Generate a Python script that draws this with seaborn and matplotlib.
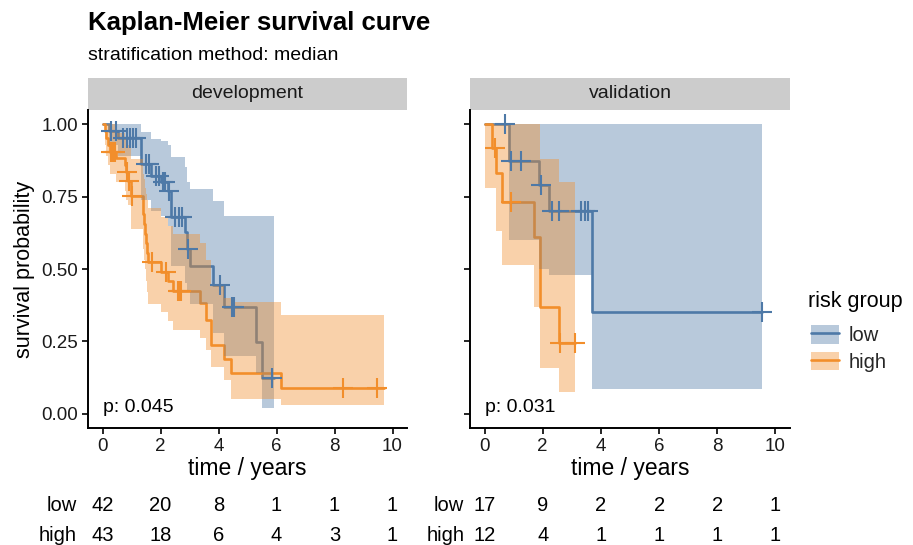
import numpy as np
import pandas as pd
import matplotlib
matplotlib.use("Agg")
import matplotlib.pyplot as plt
import seaborn as sns
from matplotlib.patches import Patch, Rectangle
from matplotlib.lines import Line2D
from matplotlib.legend_handler import HandlerTuple
from matplotlib.transforms import blended_transform_factory

# development cohort, low risk
dev_low_time = [0, 0.24, 0.55, 1.33, 1.68, 2.02, 2.25, 2.37, 2.83, 2.9, 3.0, 3.8, 4.2, 5.3, 5.5]
dev_low_surv = [1.0, 0.976, 0.952, 0.864, 0.822, 0.80, 0.77, 0.679, 0.627, 0.568, 0.509, 0.446, 0.37, 0.247, 0.122]
dev_low_upper = [1.0, 1.0, 1.0, 0.975, 0.95, 0.944, 0.93, 0.889, 0.854, 0.80, 0.777, 0.735, 0.683, 0.683, 0.683]
dev_low_lower = [1.0, 0.93, 0.89, 0.74, 0.70, 0.685, 0.65, 0.51, 0.45, 0.42, 0.38, 0.28, 0.20, 0.14, 0.02]
dev_low_end = 5.9
dev_low_censor = [0.3, 0.45, 0.7, 0.85, 0.95, 1.05, 1.15, 1.5, 1.6, 1.85, 1.95, 2.1, 2.15, 2.3,
                  2.5, 2.65, 2.75, 2.95, 4.05, 4.45, 4.55, 5.85]

# development cohort, high risk
dev_high_time = [0, 0.07, 0.12, 0.2, 0.25, 0.45, 0.76, 0.8, 0.88, 0.98, 1.38, 1.41, 1.44, 1.47, 1.5,
                 1.53, 1.56, 2.03, 2.25, 2.42, 3.35, 3.58, 3.75, 4.2, 4.44, 6.17]
dev_high_surv = [1.0, 0.977, 0.953, 0.93, 0.906, 0.884, 0.86, 0.835, 0.805, 0.753, 0.72, 0.69, 0.655, 0.62, 0.59,
                 0.557, 0.523, 0.49, 0.457, 0.425, 0.383, 0.324, 0.237, 0.19, 0.14, 0.09]
dev_high_upper = [1.0, 1.0, 1.0, 1.0, 1.0, 0.97, 0.95, 0.94, 0.93, 0.88, 0.86, 0.83, 0.81, 0.78, 0.76,
                  0.74, 0.71, 0.68, 0.65, 0.62, 0.59, 0.53, 0.44, 0.40, 0.385, 0.34]
dev_high_lower = [1.0, 0.93, 0.89, 0.86, 0.83, 0.80, 0.77, 0.74, 0.72, 0.64, 0.61, 0.57, 0.53, 0.50, 0.46,
                  0.42, 0.38, 0.35, 0.32, 0.29, 0.26, 0.22, 0.16, 0.115, 0.052, 0.028]
dev_high_end = 9.7
dev_high_censor = [0.28, 0.35, 0.42, 0.85, 0.92, 1.03, 1.72, 2.2, 2.6, 2.65, 2.7, 8.28, 9.48]

# validation cohort, low risk
val_low_time = [0, 0.83, 1.88, 2.22, 3.68]
val_low_surv = [1.0, 0.875, 0.79, 0.70, 0.35]
val_low_upper = [1.0, 1.0, 1.0, 1.0, 1.0]
val_low_lower = [1.0, 0.60, 0.50, 0.48, 0.085]
val_low_end = 9.55
val_low_censor = [0.72, 0.9, 1.25, 1.95, 2.33, 2.57, 3.33, 3.44, 3.54, 9.55]

# validation cohort, high risk
val_high_time = [0, 0.25, 0.38, 0.6, 1.7, 1.9, 2.57]
val_high_surv = [1.0, 0.917, 0.833, 0.733, 0.611, 0.367, 0.244]
val_high_upper = [1.0, 1.0, 1.0, 1.0, 1.0, 0.88, 0.80]
val_high_lower = [0.78, 0.78, 0.63, 0.515, 0.37, 0.157, 0.073]
val_high_end = 3.12
val_high_censor = [0.35, 0.9, 2.58, 3.12]

# numbers at risk
risk_times = [0, 2, 4, 6, 8, 10]
dev_low_risk = [42, 20, 8, 1, 1, 1]
dev_high_risk = [43, 18, 6, 4, 3, 1]
val_low_risk = [17, 9, 2, 2, 2, 1]
val_high_risk = [12, 4, 1, 1, 1, 1]

p_values = ["p: 0.045", "p: 0.031"]
panel_names = ["development", "validation"]

BLUE = "#4E79A7"
ORANGE = "#F28E2B"

sns.set_theme(style="ticks")
plt.rcParams["font.family"] = ["Liberation Sans", "DejaVu Sans"]

W, H = 913, 545
fig = plt.figure(figsize=(W / 100, H / 100), dpi=100)


def px_axes(x0, x1, y0, y1):
    return fig.add_axes([x0 / W, 1 - y1 / H, (x1 - x0) / W, (y1 - y0) / H])


def extend(t, v, end):
    return list(t) + [end], list(v) + [v[-1]]


def draw_curve(ax, t, s, end, color):
    tx, sx = extend(t, s, end)
    df = pd.DataFrame({"time": tx, "surv": sx})
    sns.lineplot(data=df, x="time", y="surv", drawstyle="steps-post", estimator=None,
                 sort=False, color=color, linewidth=1.9, ax=ax, zorder=2)


def draw_band(ax, t, lo, up, end, color):
    tx, lx = extend(t, lo, end)
    _, ux = extend(t, up, end)
    ax.fill_between(tx, lx, ux, step="post", color=color, alpha=0.4, linewidth=0, zorder=3)


def draw_censor(ax, t, s, cens, color):
    idx = np.searchsorted(t, cens, side="right") - 1
    cy = np.array(s)[idx]
    sns.scatterplot(x=cens, y=cy, marker="+", s=210, linewidth=1.5, color=color, ax=ax, zorder=5)


panels = [
    (dev_low_time, dev_low_surv, dev_low_lower, dev_low_upper, dev_low_end, dev_low_censor,
     dev_high_time, dev_high_surv, dev_high_lower, dev_high_upper, dev_high_end, dev_high_censor,
     dev_low_risk, dev_high_risk, -0.9),
    (val_low_time, val_low_surv, val_low_lower, val_low_upper, val_low_end, val_low_censor,
     val_high_time, val_high_surv, val_high_lower, val_high_upper, val_high_end, val_high_censor,
     val_low_risk, val_high_risk, -0.7),
]

ax_dev = px_axes(88, 407, 110, 428)
ax_val = px_axes(470, 790, 110, 428)

for i, (ax, pdata) in enumerate(zip([ax_dev, ax_val], panels)):
    (lt, ls, llo, lup, lend, lc, ht, hs, hlo, hup, hend, hc, lrisk, hrisk, lab_x) = pdata
    draw_curve(ax, lt, ls, lend, BLUE)
    draw_curve(ax, ht, hs, hend, ORANGE)
    draw_band(ax, lt, llo, lup, lend, BLUE)
    draw_band(ax, ht, hlo, hup, hend, ORANGE)
    draw_censor(ax, lt, ls, lc, BLUE)
    draw_censor(ax, ht, hs, hc, ORANGE)

    ax.set_xlim(-0.5, 10.5)
    ax.set_ylim(-0.05, 1.05)
    ax.set_xticks(risk_times)
    ax.set_yticks([0, 0.25, 0.5, 0.75, 1.0])
    ax.set_yticklabels(["0.00", "0.25", "0.50", "0.75", "1.00"])
    ax.grid(False)
    ax.set_facecolor("white")
    sns.despine(ax=ax)
    for sp in ["left", "bottom"]:
        ax.spines[sp].set_linewidth(1.4)
        ax.spines[sp].set_color("black")
    ax.tick_params(length=4, width=1.2, color="black", labelsize=13.5, labelcolor="#1A1A1A", pad=3)
    ax.set_xlabel("time / years", fontsize=16.5, color="black", labelpad=2)
    ax.set_ylabel("")

    # facet strip
    strip_h = 32 / 318
    ax.add_patch(Rectangle((0, 1), 1, strip_h, transform=ax.transAxes, clip_on=False,
                           facecolor="#CCCCCC", edgecolor="none"))
    ax.text(0.5, 1 + strip_h / 2, panel_names[i], transform=ax.transAxes, ha="center",
            va="center", fontsize=14, color="#1A1A1A")

    ax.text(0.0, 0.02, p_values[i], fontsize=14, ha="left", va="center", color="black")

    # numbers at risk
    tr = blended_transform_factory(ax.transData, ax.transAxes)
    for lab, risk, yy in [("low", lrisk, -0.245), ("high", hrisk, -0.338)]:
        ax.text(lab_x, yy, lab, transform=tr, ha="right", va="center", fontsize=14.5, color="black")
        for tt, n in zip(risk_times, risk):
            ax.text(tt, yy, str(n), transform=tr, ha="center", va="center", fontsize=14.5, color="black")

ax_val.tick_params(labelleft=False)
ax_dev.set_ylabel("survival probability", fontsize=15.5, color="black", labelpad=5)

fig.text(88 / W, 1 - 23 / H, "Kaplan-Meier survival curve", fontsize=18.5, fontweight="bold",
         ha="left", va="center", color="black")
fig.text(88 / W, 1 - 56 / H, "stratification method: median", fontsize=14, ha="left",
         va="center", color="black")

# legend
fig.text(808 / W, 1 - 302 / H, "risk group", fontsize=15.5, ha="left", va="center", color="black")
handles = [
    (Patch(facecolor=BLUE, alpha=0.4, edgecolor="none"), Line2D([], [], color=BLUE, linewidth=1.9)),
    (Patch(facecolor=ORANGE, alpha=0.4, edgecolor="none"), Line2D([], [], color=ORANGE, linewidth=1.9)),
]
leg = fig.legend(handles=handles, labels=["low", "high"], loc="upper left",
                 bbox_to_anchor=(811 / W, 1 - 325 / H), frameon=False, fontsize=14.5,
                 handler_map={tuple: HandlerTuple(ndivide=1, pad=0)},
                 handlelength=1.4, handleheight=1.05, labelspacing=0.32, handletextpad=0.45,
                 borderpad=0, borderaxespad=0)

fig.savefig("out.png", dpi=100)
